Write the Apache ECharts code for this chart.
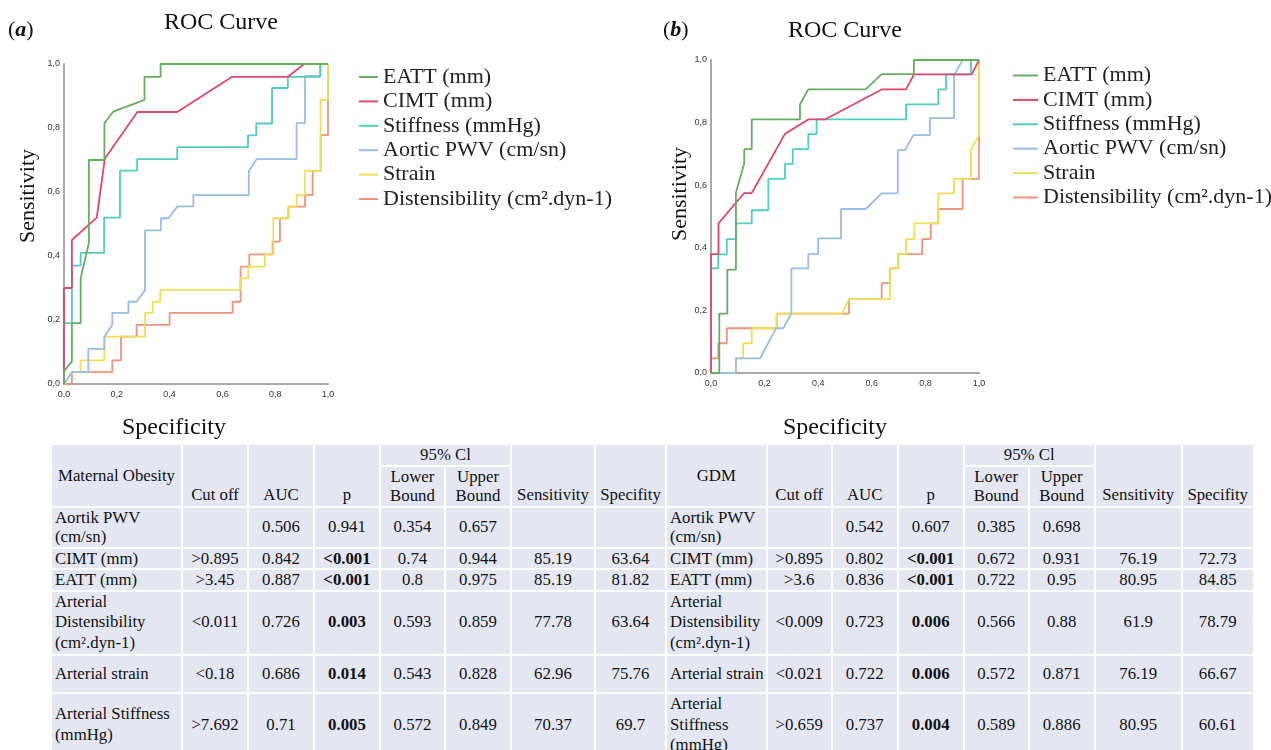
<!DOCTYPE html>
<html>
<head>
<meta charset="utf-8">
<script src="https://cdn.jsdelivr.net/npm/echarts@6/dist/echarts.min.js"></script>
<style>
  html, body { margin:0; padding:0; background:#ffffff; width:1271px; height:750px; overflow:hidden; }
  #chart { position:absolute; left:0; top:0; width:1271px; height:440px; }
  #tbl { position:absolute; left:50px; top:443px; }
  table { border-collapse:collapse; table-layout:fixed; font-family:"Liberation Serif","Times New Roman",serif; font-size:16.8px; color:#111; }
  td { background:#e4e7f1; border:2px solid #ffffff; padding:0 2px; line-height:19.5px; text-align:center; vertical-align:middle; white-space:pre; overflow:visible; }
  td.first { text-align:left; padding-left:3px; }
  td.hb { vertical-align:bottom; padding-bottom:1px; }
  td.b { font-weight:bold; }
  tr.tall td { line-height:20.8px; }
</style>
</head>
<body>
<div id="chart"></div>
<div id="tbl"></div>
<script>
// ---------- chart data ----------
const seriesNames = ['EATT (mm)','CIMT (mm)','Stiffness (mmHg)','Aortic PWV (cm/sn)','Strain','Distensibility (cm².dyn-1)'];
const axisTicks = [0, 0.2, 0.4, 0.6, 0.8, 1.0];

// Panel (a): Maternal Obesity  [1 - specificity, sensitivity]
const eattA = [[0,0],[0,0.04],[0.03,0.07],[0.03,0.19],[0.063,0.19],[0.063,0.33],[0.094,0.44],[0.094,0.70],[0.153,0.70],[0.153,0.814],[0.186,0.851],[0.305,0.888],[0.305,0.96],[0.366,0.96],[0.366,1],[1,1]];
const cimtA = [[0,0],[0,0.30],[0.03,0.30],[0.03,0.45],[0.124,0.52],[0.155,0.705],[0.278,0.85],[0.429,0.85],[0.637,0.96],[0.848,0.96],[0.91,1],[1,1]];
const stiffA = [[0,0],[0,0.19],[0.03,0.19],[0.03,0.37],[0.063,0.37],[0.063,0.41],[0.152,0.41],[0.152,0.52],[0.212,0.52],[0.212,0.667],[0.277,0.667],[0.277,0.703],[0.429,0.703],[0.429,0.74],[0.697,0.74],[0.697,0.777],[0.728,0.777],[0.728,0.814],[0.788,0.814],[0.788,0.925],[0.848,0.925],[0.848,0.96],[0.97,0.96],[0.97,1],[1,1]];
const pwvA = [[0,0],[0.03,0.037],[0.092,0.037],[0.092,0.11],[0.153,0.11],[0.153,0.148],[0.183,0.185],[0.183,0.222],[0.244,0.222],[0.244,0.257],[0.275,0.257],[0.307,0.294],[0.307,0.48],[0.367,0.48],[0.367,0.518],[0.395,0.518],[0.43,0.555],[0.49,0.555],[0.49,0.59],[0.70,0.59],[0.70,0.666],[0.73,0.703],[0.881,0.703],[0.881,0.815],[0.913,0.815],[0.913,0.963],[0.972,0.963],[0.972,1],[1,1]];
const strainA = [[0,0],[0.03,0.037],[0.063,0.037],[0.063,0.074],[0.153,0.074],[0.153,0.148],[0.307,0.148],[0.307,0.222],[0.336,0.222],[0.336,0.257],[0.365,0.257],[0.365,0.294],[0.667,0.294],[0.667,0.33],[0.698,0.33],[0.698,0.367],[0.761,0.367],[0.761,0.405],[0.793,0.405],[0.793,0.518],[0.85,0.518],[0.85,0.554],[0.881,0.554],[0.881,0.59],[0.913,0.59],[0.913,0.666],[0.972,0.666],[0.972,0.888],[1,0.888],[1,1]];
const distA = [[0,0],[0.03,0],[0.03,0.037],[0.183,0.037],[0.183,0.074],[0.216,0.074],[0.216,0.148],[0.275,0.148],[0.275,0.185],[0.40,0.185],[0.40,0.222],[0.639,0.222],[0.639,0.257],[0.669,0.257],[0.669,0.367],[0.702,0.367],[0.702,0.405],[0.79,0.405],[0.79,0.445],[0.818,0.445],[0.818,0.518],[0.85,0.518],[0.85,0.554],[0.913,0.554],[0.913,0.59],[0.942,0.59],[0.942,0.666],[0.972,0.666],[0.972,0.778],[1,0.778],[1,1]];

// Panel (b): GDM
const eattB = [[0,0],[0.031,0],[0.031,0.19],[0.061,0.19],[0.061,0.33],[0.093,0.33],[0.093,0.576],[0.124,0.67],[0.124,0.715],[0.152,0.715],[0.152,0.81],[0.332,0.81],[0.332,0.858],[0.363,0.906],[0.577,0.906],[0.637,0.955],[0.757,0.955],[0.757,1],[1,1]];
const cimtB = [[0,0],[0,0.38],[0.028,0.38],[0.028,0.478],[0.124,0.575],[0.152,0.575],[0.276,0.764],[0.363,0.81],[0.425,0.81],[0.637,0.906],[0.728,0.906],[0.757,0.954],[0.973,0.954],[1,1]];
const stiffB = [[0,0],[0,0.334],[0.027,0.334],[0.027,0.379],[0.059,0.379],[0.059,0.428],[0.093,0.428],[0.093,0.478],[0.152,0.478],[0.152,0.52],[0.214,0.52],[0.214,0.62],[0.276,0.62],[0.276,0.668],[0.305,0.668],[0.305,0.715],[0.363,0.715],[0.363,0.763],[0.394,0.763],[0.394,0.81],[0.728,0.81],[0.728,0.858],[0.848,0.858],[0.848,0.906],[0.877,0.906],[0.877,0.954],[0.97,0.954],[0.97,1],[1,1]];
const pwvB = [[0,0],[0.093,0],[0.093,0.047],[0.183,0.047],[0.243,0.143],[0.27,0.143],[0.30,0.19],[0.30,0.334],[0.363,0.334],[0.363,0.38],[0.40,0.38],[0.40,0.43],[0.485,0.43],[0.485,0.524],[0.577,0.524],[0.637,0.574],[0.697,0.574],[0.697,0.712],[0.724,0.712],[0.755,0.76],[0.817,0.76],[0.817,0.814],[0.907,0.814],[0.907,0.952],[0.939,1],[1,1]];
const strainB = [[0,0],[0.093,0],[0.093,0.047],[0.12,0.047],[0.12,0.095],[0.152,0.095],[0.152,0.143],[0.245,0.143],[0.245,0.19],[0.488,0.19],[0.515,0.236],[0.668,0.236],[0.668,0.334],[0.699,0.334],[0.699,0.38],[0.728,0.38],[0.728,0.428],[0.759,0.428],[0.759,0.478],[0.848,0.478],[0.848,0.574],[0.907,0.574],[0.907,0.62],[0.97,0.62],[0.97,0.712],[1,0.76],[1,1]];
const distB = [[0,0],[0,0.047],[0.027,0.047],[0.027,0.095],[0.059,0.095],[0.059,0.143],[0.245,0.143],[0.245,0.19],[0.515,0.19],[0.515,0.236],[0.637,0.236],[0.637,0.287],[0.668,0.287],[0.668,0.334],[0.699,0.334],[0.699,0.38],[0.788,0.38],[0.788,0.428],[0.82,0.428],[0.82,0.478],[0.848,0.478],[0.848,0.524],[0.939,0.524],[0.939,0.62],[1,0.62],[1,1]];

// ---------- table data ----------
const headA = ['Maternal Obesity','Cut off','AUC','p','Lower\nBound','Upper\nBound','Sensitivity','Specifity'];
const headB = ['GDM','Cut off','AUC','p','Lower\nBound','Upper\nBound','Sensitivity','Specifity'];
const ciLabel = '95% Cl';
const rowsA = [
  ['Aortik PWV\n(cm/sn)','','0.506','0.941','0.354','0.657','',''],
  ['CIMT (mm)','>0.895','0.842','<0.001','0.74','0.944','85.19','63.64'],
  ['EATT (mm)','>3.45','0.887','<0.001','0.8','0.975','85.19','81.82'],
  ['Arterial\nDistensibility\n(cm².dyn-1)','<0.011','0.726','0.003','0.593','0.859','77.78','63.64'],
  ['Arterial strain','<0.18','0.686','0.014','0.543','0.828','62.96','75.76'],
  ['Arterial Stiffness\n(mmHg)','>7.692','0.71','0.005','0.572','0.849','70.37','69.7']
];
const rowsB = [
  ['Aortik PWV\n(cm/sn)','','0.542','0.607','0.385','0.698','',''],
  ['CIMT (mm)','>0.895','0.802','<0.001','0.672','0.931','76.19','72.73'],
  ['EATT (mm)','>3.6','0.836','<0.001','0.722','0.95','80.95','84.85'],
  ['Arterial\nDistensibility\n(cm².dyn-1)','<0.009','0.723','0.006','0.566','0.88','61.9','78.79'],
  ['Arterial strain','<0.021','0.722','0.006','0.572','0.871','76.19','66.67'],
  ['Arterial\nStiffness\n(mmHg)','>0.659','0.737','0.004','0.589','0.886','80.95','60.61']
];
const pBold = [false,true,true,true,true,true];

// ---------- styling ----------
const colors = ['#66ad5f','#e2476b','#4fcfbf','#98bde8','#efdf55','#f0957c'];
const colWidths = [131,66,66,66,65,66,84,71, 98,65,66,66,65,66,87,72];
const rowHeights = [18,39,40,20,20,63,38,64];
const tallRows = [false,false,false,true,false,true];

const chart = echarts.init(document.getElementById('chart'), null, {renderer:'canvas'});
const serif = '"Liberation Serif","Times New Roman",serif';

function mkAxis(gi, isX) {
  return {
    type:'value', gridIndex:gi, min:0, max:1, interval:0.2,
    axisLine:{show:true, onZero:false, lineStyle:{color:'#a9a9a9', width:2}},
    axisTick:{show:false}, splitLine:{show:false},
    axisLabel:{fontFamily:'"Liberation Sans",Arial,sans-serif', fontSize:9, color:'#333', margin: isX ? 6 : 4,
      formatter: v => v.toFixed(1).replace('.', ',')}
  };
}
const dataA = [eattA, cimtA, stiffA, pwvA, strainA, distA];
const dataB = [eattB, cimtB, stiffB, pwvB, strainB, distB];
const series = [];
[dataA, dataB].forEach((set, gi) => {
  set.forEach((d, i) => {
    series.push({
      type:'line', name: seriesNames[i], xAxisIndex:gi, yAxisIndex:gi, data:d,
      showSymbol:false, symbol:'none', silent:true,
      lineStyle:{color:colors[i], width:1.8}, itemStyle:{color:colors[i]},
      z: 10 - i
    });
  });
});
function mkLegend(left, top, w) {
  return {
    left:left, top:top, orient:'vertical', data:seriesNames, icon:'rect', padding:0,
    itemWidth:w, itemHeight:2, itemGap:2.4, selectedMode:false,
    textStyle:{fontFamily:serif, fontSize:22, color:'#222', lineHeight:21}
  };
}
const option = {
  animation:false,
  grid:[{left:64, top:64, width:264, height:320}, {left:711, top:60, width:268, height:313}],
  xAxis:[mkAxis(0,true), mkAxis(1,true)],
  yAxis:[mkAxis(0,false), mkAxis(1,false)],
  legend:[mkLegend(359, 66, 19), mkLegend(1013, 64.5, 25)],
  series: series,
  graphic:[
    {type:'text', left:8, top:19, style:{text:'({a|a})', font:'22px '+serif, fill:'#111', rich:{a:{font:'italic bold 22px '+serif, fill:'#111'}}}},
    {type:'text', left:663, top:19, style:{text:'({a|b})', font:'22px '+serif, fill:'#111', rich:{a:{font:'italic bold 22px '+serif, fill:'#111'}}}},
    {type:'text', x:221, y:23, style:{text:'ROC Curve', font:'24px '+serif, fill:'#111', textAlign:'center', textVerticalAlign:'middle'}},
    {type:'text', x:845, y:31, style:{text:'ROC Curve', font:'24px '+serif, fill:'#111', textAlign:'center', textVerticalAlign:'middle'}},
    {type:'text', x:28, y:196, rotation:Math.PI/2, style:{text:'Sensitivity', font:'22px '+serif, fill:'#111', textAlign:'center', textVerticalAlign:'middle'}},
    {type:'text', x:680, y:194, rotation:Math.PI/2, style:{text:'Sensitivity', font:'22px '+serif, fill:'#111', textAlign:'center', textVerticalAlign:'middle'}},
    {type:'text', x:174, y:428, style:{text:'Specificity', font:'24px '+serif, fill:'#111', textAlign:'center', textVerticalAlign:'middle'}},
    {type:'text', x:835, y:428, style:{text:'Specificity', font:'24px '+serif, fill:'#111', textAlign:'center', textVerticalAlign:'middle'}}
  ]
};
chart.setOption(option);

// ---------- build table ----------
function esc(s){ return s.replace(/&/g,'&amp;').replace(/</g,'&lt;').replace(/>/g,'&gt;'); }
let html = '<table><colgroup>' + colWidths.map(w => '<col style="width:'+w+'px">').join('') + '</colgroup>';
html += '<tr style="height:'+rowHeights[0]+'px">';
[headA, headB].forEach(h => {
  html += '<td rowspan="2">'+esc(h[0])+'</td>';
  html += '<td rowspan="2" class="hb">'+esc(h[1])+'</td>';
  html += '<td rowspan="2" class="hb">'+esc(h[2])+'</td>';
  html += '<td rowspan="2" class="hb">'+esc(h[3])+'</td>';
  html += '<td colspan="2">'+esc(ciLabel)+'</td>';
  html += '<td rowspan="2" class="hb">'+esc(h[6])+'</td>';
  html += '<td rowspan="2" class="hb">'+esc(h[7])+'</td>';
});
html += '</tr><tr style="height:'+rowHeights[1]+'px">';
[headA, headB].forEach(h => {
  html += '<td>'+esc(h[4])+'</td><td>'+esc(h[5])+'</td>';
});
html += '</tr>';
rowsA.forEach((ra, r) => {
  html += '<tr class="'+(tallRows[r]?'tall':'')+'" style="height:'+rowHeights[r+2]+'px">';
  [ra, rowsB[r]].forEach(row => {
    row.forEach((c, ci) => {
      let cls = ci === 0 ? 'first' : (ci === 3 && pBold[r] ? 'b' : '');
      html += '<td class="'+cls+'">'+esc(c)+'</td>';
    });
  });
  html += '</tr>';
});
html += '</table>';
document.getElementById('tbl').innerHTML = html;
</script>
</body>
</html>
